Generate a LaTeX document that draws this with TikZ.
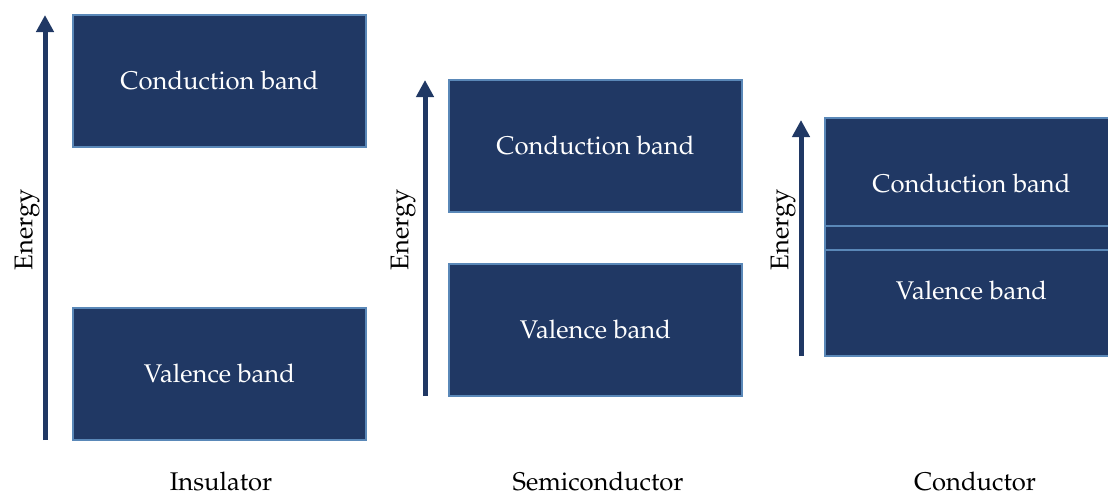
\documentclass[tikz,border=0pt]{standalone}
\usepackage[T1]{fontenc}
\usepackage{mathpazo}
\usetikzlibrary{arrows.meta}
\definecolor{bandfill}{HTML}{203864}
\definecolor{bandedge}{HTML}{5A88B8}
\tikzstyle{band} = [rectangle, minimum width=146.5pt, minimum height=66pt, fill=bandfill, draw=bandedge, line width=1pt, text=white, font=\fontsize{12.8}{15}\selectfont, inner sep=0pt]
\tikzstyle{energy} = [draw=bandfill, line width=2.5pt, -{Triangle[width=8.5pt,length=8.5pt]}]
\tikzstyle{axislabel} = [rotate=90, font=\fontsize{12.8}{15}\selectfont]
\tikzstyle{caption} = [font=\fontsize{12.8}{15}\selectfont, inner sep=0pt]

\begin{document}
\begin{tikzpicture}[x=0.5pt,y=-0.5pt]
    \clip (0,0) rectangle (1108,499);

    % Insulator
    \node[band] (icb) at (219.5,81) {Conduction band};
    \node[band] (ivb) at (219.5,374) {Valence band};
    \coordinate (ia0) at (45,440);
    \coordinate (ia1) at (45,15);
    \draw[energy] (ia0) -- (ia1);
    \node[axislabel] (ie) at (27,230) {Energy};
    \node[caption] (ins) at (221,482) {Insulator};

    % Semiconductor
    \node[band] (scb) at (595.5,145.5) {Conduction band};
    \node[band] (svb) at (595.5,329.5) {Valence band};
    \coordinate (sa0) at (425,396);
    \coordinate (sa1) at (425,80);
    \draw[energy] (sa0) -- (sa1);
    \node[axislabel] (se) at (403,230) {Energy};
    \node[caption] (semi) at (598,482) {Semiconductor};

    % Conductor
    \node[band, minimum height=65.5pt] (ccb) at (971.5,183.5) {Conduction band};
    \node[band, minimum height=65pt] (cvb) at (971.5,291) {Valence band};
    \draw[bandedge, line width=1pt] (ccb.south west) -- (ccb.south east);
    \coordinate (ca0) at (801,356);
    \coordinate (ca1) at (801,120);
    \draw[energy] (ca0) -- (ca1);
    \node[axislabel] (ce) at (783,230) {Energy};
    \node[caption] (cond) at (975,482) {Conductor};

\end{tikzpicture}
\end{document}
